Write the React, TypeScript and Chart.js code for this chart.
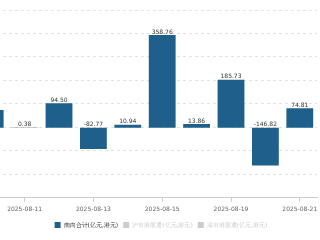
import React, { useEffect, useRef } from "react";
import { Chart, registerables } from "chart.js";

Chart.register(...registerables);

const categories = [
  "2025-08-08",
  "2025-08-11",
  "2025-08-12",
  "2025-08-13",
  "2025-08-14",
  "2025-08-15",
  "2025-08-18",
  "2025-08-19",
  "2025-08-20",
  "2025-08-21",
];
const southboundTotal = [68.0, 0.38, 94.5, -82.77, 10.94, 358.76, 13.86, 185.73, -146.82, 74.81];
const shanghaiConnect: number[] = [];
const shenzhenConnect: number[] = [];
const seriesNames = ["南向合计(亿元,港元)", "沪市港股通(亿元,港元)", "深市港股通(亿元,港元)"];

const BAR = "#1f5f8c";
const HIDDEN = "#cccccc";
const FONT = "'DejaVu Sans', sans-serif";

const labelPlugin = {
  id: "barValueLabels",
  afterDatasetsDraw(chart: any) {
    const ctx = chart.ctx;
    ctx.save();
    ctx.font = `6px ${FONT}`;
    ctx.fillStyle = "#333";
    ctx.textAlign = "center";
    ctx.textBaseline = "bottom";
    chart.data.datasets.forEach((ds: any, di: number) => {
      const meta = chart.getDatasetMeta(di);
      if (!chart.isDatasetVisible(di)) return;
      meta.data.forEach((el: any, i: number) => {
        const v = ds.data[i];
        if (v === null || v === undefined) return;
        const top = Math.min(el.y, el.base);
        ctx.fillText(Number(v).toFixed(2), el.x, top);
      });
    });
    ctx.restore();
  },
};

export default function App() {
  const ref = useRef<HTMLCanvasElement>(null);
  useEffect(() => {
    if (!ref.current) return;
    const chart = new Chart(ref.current, {
      type: "bar",
      data: {
        labels: categories,
        datasets: [
          { label: seriesNames[0], data: southboundTotal, backgroundColor: BAR, barPercentage: 0.78, categoryPercentage: 1 },
          { label: seriesNames[1], data: shanghaiConnect, backgroundColor: "#7fa8c9", hidden: true },
          { label: seriesNames[2], data: shenzhenConnect, backgroundColor: "#a8c46b", hidden: true },
        ],
      },
      options: {
        animation: false,
        responsive: true,
        maintainAspectRatio: false,
        layout: { padding: { top: 10, right: 0, left: 0, bottom: 2 } },
        plugins: {
          tooltip: { enabled: false },
          legend: {
            position: "bottom",
            labels: {
              boxWidth: 6,
              boxHeight: 6,
              padding: 5,
              font: { size: 6, family: FONT },
              generateLabels: (c: any) =>
                c.data.datasets.map((ds: any, i: number) => {
                  const vis = c.isDatasetVisible(i);
                  return {
                    text: ds.label,
                    fillStyle: vis ? BAR : HIDDEN,
                    strokeStyle: vis ? BAR : HIDDEN,
                    lineWidth: 0,
                    fontColor: vis ? "#333" : HIDDEN,
                    hidden: false,
                    datasetIndex: i,
                  };
                }),
            },
          },
        },
        scales: {
          x: {
            grid: {
              display: true,
              offset: false,
              drawOnChartArea: false,
              drawTicks: true,
              tickLength: 4,
              color: (ctx: any) => (ctx.index % 2 === 1 ? "#cccccc" : "rgba(0,0,0,0)"),
            },
            border: { display: true, color: "#cccccc" },
            ticks: {
              autoSkip: false,
              maxRotation: 0,
              padding: 4,
              color: "#666",
              font: { size: 6, family: FONT },
              callback: function (this: any, val: any, i: number) {
                return i % 2 === 1 ? this.getLabelForValue(val) : "";
              },
            },
          },
          y: {
            min: -272,
            max: 456,
            ticks: { display: false, stepSize: 91 },
            grid: { color: "#e2e2e2", drawTicks: false },
            border: { display: false, dash: [3, 3] },
          },
          y1: {
            position: "right",
            display: true,
            min: -272,
            max: 456,
            ticks: { display: false },
            grid: { drawOnChartArea: false, drawTicks: false },
            border: { display: false },
            afterFit: (s: any) => {
              s.width = 32;
            },
          },
        },
      },
      plugins: [labelPlugin],
    });
    return () => chart.destroy();
  }, []);
  return (
    <div style={{ position: "fixed", left: 0, top: 0, width: 320, height: 240, overflow: "hidden", background: "#fff" }}>
      <div style={{ position: "absolute", left: -27, top: 0, width: 376, height: 240 }}>
        <canvas ref={ref} />
      </div>
    </div>
  );
}
